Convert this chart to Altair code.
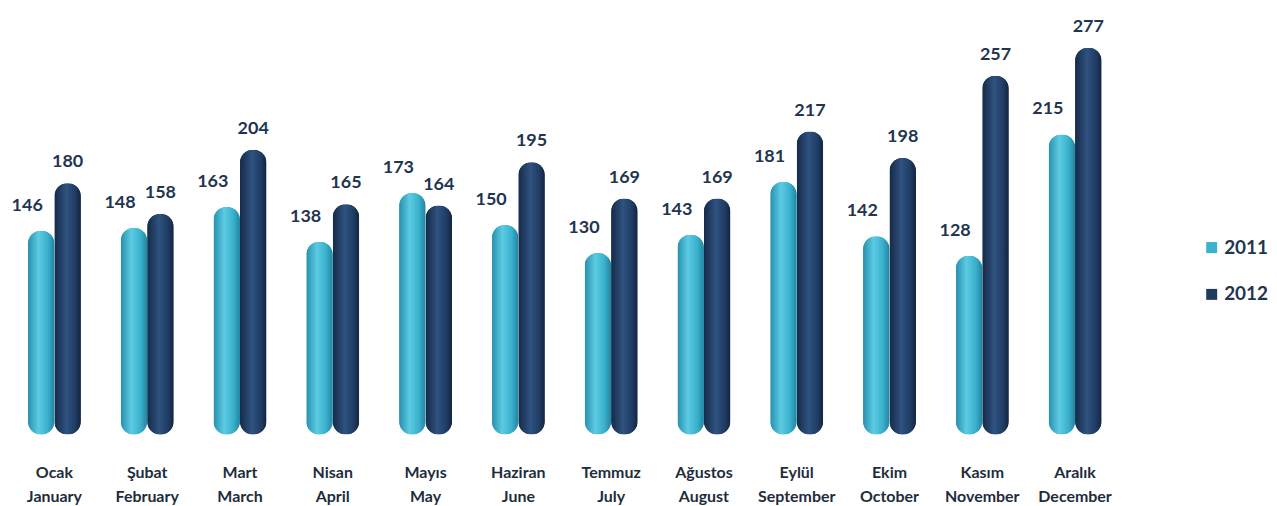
import altair as alt
import pandas as pd

months_tr = ["Ocak", "Şubat", "Mart", "Nisan", "Mayıs", "Haziran", "Temmuz",
             "Ağustos", "Eylül", "Ekim", "Kasım", "Aralık"]
months_en = ["January", "February", "March", "April", "May", "June", "July",
             "August", "September", "October", "November", "December"]
series = ["2011", "2012"]
values_2011 = [146, 148, 163, 138, 173, 150, 130, 143, 181, 142, 128, 215]
values_2012 = [180, 158, 204, 165, 164, 195, 169, 169, 217, 198, 257, 277]

keys = [f"{t}|{e}" for t, e in zip(months_tr, months_en)]
rows = []
for k, v in zip(keys, values_2011):
    rows.append({"key": k, "series": "2011", "value": v})
for k, v in zip(keys, values_2012):
    rows.append({"key": k, "series": "2012", "value": v})
df = pd.DataFrame(rows)

FONT = "Lato"
TXT = "#1f3550"

grad_2011 = alt.Gradient(
    gradient="linear", x1=0, x2=1, y1=0, y2=0,
    stops=[alt.GradientStop(offset=0, color="#2790ad"),
           alt.GradientStop(offset=0.4, color="#5ccbe3"),
           alt.GradientStop(offset=0.75, color="#3ab0cc"),
           alt.GradientStop(offset=1, color="#2284a0")])
grad_2012 = alt.Gradient(
    gradient="linear", x1=0, x2=1, y1=0, y2=0,
    stops=[alt.GradientStop(offset=0, color="#152a47"),
           alt.GradientStop(offset=0.45, color="#2f5280"),
           alt.GradientStop(offset=0.8, color="#1f3b62"),
           alt.GradientStop(offset=1, color="#13243d")])

base = alt.Chart(df).encode(
    x=alt.X("key:N", sort=keys, title=None,
            scale=alt.Scale(paddingInner=0.43, paddingOuter=0.215),
            axis=alt.Axis(labelExpr="split(datum.label, '|')", labelAngle=0,
                          domain=False, ticks=False, labelPadding=30,
                          labelFont=FONT, labelFontWeight="bold", labelFontSize=16,
                          labelColor="#1e2d3c", labelLineHeight=24)),
    xOffset=alt.XOffset("series:N", scale=alt.Scale(domain=series, paddingInner=0, paddingOuter=0)),
    y=alt.Y("value:Q", scale=alt.Scale(domain=[0, 305]), axis=None),
)

solid = base.mark_bar(cornerRadius=13).encode(
    color=alt.Color("series:N",
                    scale=alt.Scale(domain=series, range=["#3bb3cf", "#1f3a5f"]),
                    legend=alt.Legend(title=None, orient="none", legendX=1198, legendY=230,
                                      symbolType="square", symbolSize=121, padding=0,
                                      labelFont=FONT, labelFontWeight="bold",
                                      labelFontSize=19, labelColor=TXT, rowPadding=27,
                                      labelOffset=3))
)

g1 = base.transform_filter(alt.datum.series == "2011").mark_bar(cornerRadius=13, color=grad_2011)
g2 = base.transform_filter(alt.datum.series == "2012").mark_bar(cornerRadius=13, color=grad_2012)

t1 = base.transform_filter(alt.datum.series == "2011").mark_text(
    dx=-14, dy=-20, baseline="alphabetic", font=FONT, fontWeight="bold",
    fontSize=18, color=TXT).encode(text="value:Q")
t2 = base.transform_filter(alt.datum.series == "2012").mark_text(
    dx=0, dy=-16, baseline="alphabetic", font=FONT, fontWeight="bold",
    fontSize=18, color=TXT).encode(text="value:Q")

chart = alt.layer(solid, g1, g2, t1, t2).properties(
    width=1117, height=427, padding=0, background="white"
).configure_view(strokeWidth=0, stroke=None)

chart.save("out.html", embed_options={"renderer": "svg", "actions": False})
